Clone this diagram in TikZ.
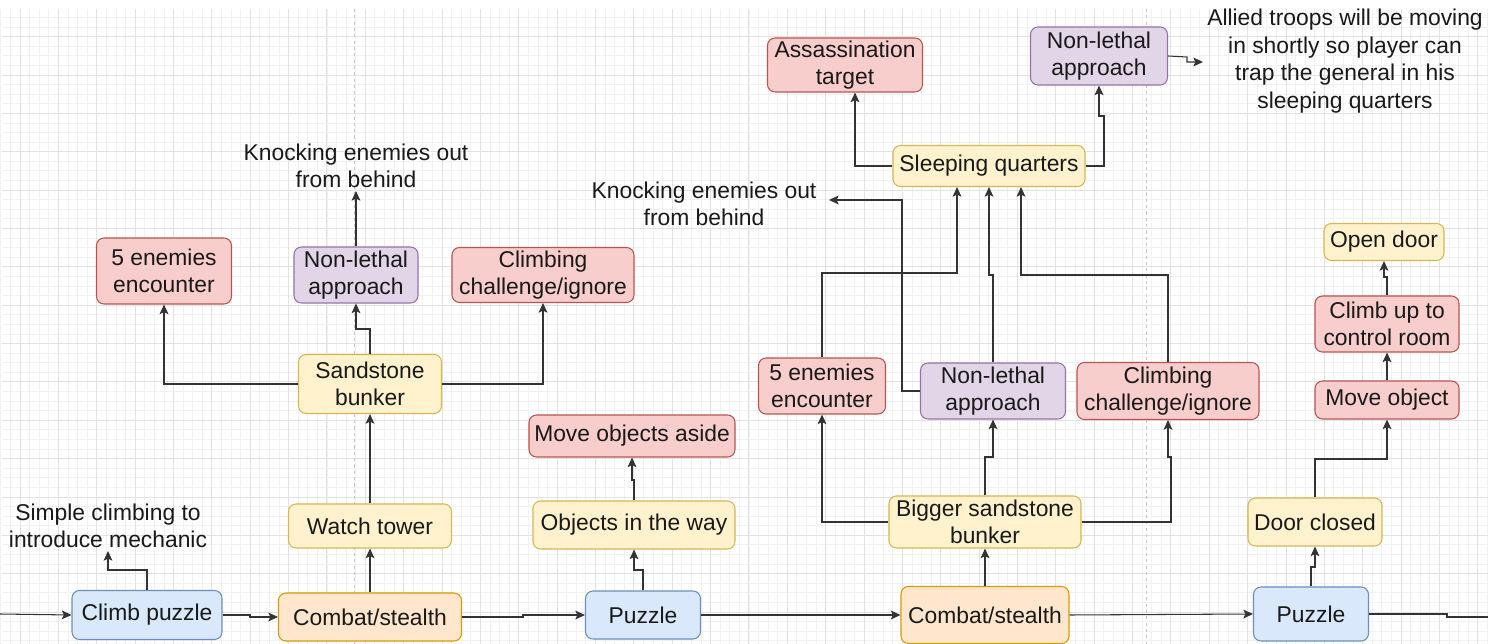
\documentclass[tikz,border=0pt]{standalone}
\usepackage{fontspec}
\setmainfont{Liberation Sans}
\usetikzlibrary{arrows.meta,calc}
\definecolor{bluef}{HTML}{DAE8FC}\definecolor{bluel}{HTML}{6C8EBF}
\definecolor{orf}{HTML}{FFE6CC}\definecolor{orl}{HTML}{D79B00}
\definecolor{yelf}{HTML}{FFF2CC}\definecolor{yell}{HTML}{D6B656}
\definecolor{redf}{HTML}{F8CECC}\definecolor{redl}{HTML}{B85450}
\definecolor{purf}{HTML}{E1D5E7}\definecolor{purl}{HTML}{9673A6}
\definecolor{gridminor}{HTML}{F1F1F1}\definecolor{gridmajor}{HTML}{E2E2E2}
\definecolor{linec}{HTML}{333333}
\tikzset{
  txtfont/.style={font=\fontsize{13}{15.6}\selectfont, text=black!90},
  box/.style={draw, rounded corners=0.15cm, align=center, inner sep=0pt, line width=0.6pt, txtfont},
  bluebox/.style={box, fill=bluef, draw=bluel},
  orbox/.style={box, fill=orf, draw=orl},
  yelbox/.style={box, fill=yelf, draw=yell},
  redbox/.style={box, fill=redf, draw=redl},
  purbox/.style={box, fill=purf, draw=purl},
  sz/.style 2 args={minimum width=#1*0.02cm, minimum height=#2*0.02cm},
  lbl/.style={align=center, inner sep=0pt, txtfont},
  conn/.style={draw=linec, line width=0.6pt},
  arr/.style={conn, -{Stealth[length=5.5pt,width=5pt,inset=1.2pt]}},
  minorline/.style={draw=gridminor, line width=0.4pt},
  majorline/.style={draw=gridmajor, line width=0.45pt},
  divider/.style={draw=gray!45, line width=0.5pt, dash pattern=on 1.8pt off 1.8pt},
}
\begin{document}
\begin{tikzpicture}[x=0.02cm, y=-0.02cm]
\useasboundingbox (0,0) rectangle (1500,644);
\fill[white] (0,0) rectangle (1500,644);
% grid
\foreach \i in {0,...,155} {\draw[minorline] ({0.82+9.59*\i},9) -- ({0.82+9.59*\i},644);}
\foreach \i in {0,...,65} {\draw[minorline] (2,{17.4+9.59*\i}) -- (1488,{17.4+9.59*\i});}
\foreach \i in {0,...,38} {\draw[majorline] ({20+38.36*\i},9) -- ({20+38.36*\i},644);}
\foreach \i in {0,...,15} {\draw[majorline] (2,{36.6+38.36*\i}) -- (1488,{36.6+38.36*\i});}
% dividers
\draw[divider] (354,9) -- (354,644);
\draw[divider] (1146,9) -- (1146,644);

% bottom row
\node[bluebox, sz={150}{49}] (cp) at (147,615) {Climb puzzle};
\node[orbox, sz={183}{48}] (cs1) at (370,617) {Combat/stealth};
\node[bluebox, sz={115}{48}] (pz1) at (643,615) {Puzzle};
\node[orbox, sz={168}{57}] (cs2) at (985,615) {Combat/stealth};
\node[bluebox, sz={115}{54}] (pz2) at (1311,614) {Puzzle};
% second row
\node[yelbox, sz={163}{44}] (wt) at (370,526) {Watch tower};
\node[yelbox, sz={202}{48}] (ow) at (634,525) {Objects in the way};
\node[yelbox, sz={192}{52}] (bb) at (985,522) {Bigger sandstone\\bunker};
\node[yelbox, sz={134}{48}] (dc) at (1315,522) {Door closed};
% left branch
\node[yelbox, sz={143}{59}] (sb) at (370,384) {Sandstone\\bunker};
\node[redbox, sz={135}{66}] (e1) at (164,271) {5 enemies\\encounter};
\node[purbox, sz={124}{56}] (nl1) at (356,275) {Non-lethal\\approach};
\node[redbox, sz={182}{55}] (cc1) at (543,275) {Climbing\\challenge/ignore};
\node[redbox, sz={206}{42}] (mo) at (632,436) {Move objects aside};
% middle branch
\node[redbox, sz={127}{56}] (e2) at (822,386) {5 enemies\\encounter};
\node[purbox, sz={145}{56}] (nl2) at (993,391) {Non-lethal\\approach};
\node[redbox, sz={182}{57}] (cc2) at (1168,391) {Climbing\\challenge/ignore};
\node[yelbox, sz={192}{41}] (sq) at (989,166) {Sleeping quarters};
\node[redbox, sz={155}{54}] (at) at (845,65) {Assassination\\target};
\node[purbox, sz={137}{58}] (nl3) at (1099,56) {Non-lethal\\approach};
% right branch
\node[redbox, sz={144}{38}] (mob) at (1387,400) {Move object};
\node[redbox, sz={144}{56}] (cu) at (1387,324) {Climb up to\\control room};
\node[yelbox, sz={120}{37}] (od) at (1384,242) {Open door};

% free text labels
\node[lbl] (t1) at (108,526) {Simple climbing to\\introduce mechanic};
\node[lbl] (t2) at (356,166) {Knocking enemies out\\from behind};
\node[lbl] (t3) at (704,204) {Knocking enemies out\\from behind};
\node[lbl] (t4) at (1345,61) {Allied troops will be moving\\in shortly so player can\\trap the general in his\\sleeping quarters};
\coordinate (t1a) at (108,551);
\coordinate (t2a) at (356,191);
\coordinate (t3a) at (829,200);
\coordinate (t4a) at (1203,62);
\coordinate (in) at (0,614);
\coordinate (out) at (1488,617);

% connectors
\draw[arr] (in) -- (cp.west);
\draw[arr] (cp.east) -- (250,615) -- (250,617) -- (cs1.west);
\draw[arr] (cp.north) -- (147,570) -| (t1a);
\draw[arr] (cs1.north) -- (wt.south);
\draw[arr] (wt.north) -- (sb.south);
\draw[arr] (sb.west) -| (e1.south);
\draw[arr] (sb.north) -- (370,329) -| (nl1.south);
\draw[arr] (sb.east) -| (cc1.south);
\draw[arr] (nl1.north) -- (t2a);
\draw[arr] (cs1.east) -- (523,617) |- (pz1.west);
\draw[arr] (pz1.north) -- (643,570) -| (ow.south);
\draw[arr] (ow.north) -- (634,480) -| (mo.south);
\draw[arr] (pz1.east) -- (cs2.west);
\draw[arr] (cs2.north) -- (bb.south);
\draw[arr] (bb.west) -| (e2.south);
\draw[arr] (bb.north) -- (985,457) -| (nl2.south);
\draw[arr] (bb.east) -- (1171,522) -- (1171,457) -| (cc2.south);
\draw[arr] (e2.north) -- (822,273) -| ($(sq.south)+(-32,0)$);
\draw[arr] (nl2.north) -- (993,275) -| (sq.south);
\draw[arr] (cc2.north) -- (1168,275) -| ($(sq.south)+(32,0)$);
\draw[arr] (nl2.west) -- (902,391) |- (t3a);
\draw[arr] (sq.west) -| ($(at.south)+(10,0)$);
\draw[arr] (sq.east) -- (1104,166) -- (1104,116) -| (nl3.south);
\draw[arr] (nl3.east) -- (1187,57) |- (t4a);
\draw[arr] (cs2.east) -- (pz2.west);
\draw[conn] (pz2.east) -- (1447,614) |- (out);
\draw[arr] (pz2.north) -- (1311,567) -| (dc.south);
\draw[arr] (dc.north) -- (1315,459) -| (mob.south);
\draw[arr] (mob.north) -- (cu.south);
\draw[arr] (cu.north) -- (1387,277) -| (od.south);
\end{tikzpicture}
\end{document}
